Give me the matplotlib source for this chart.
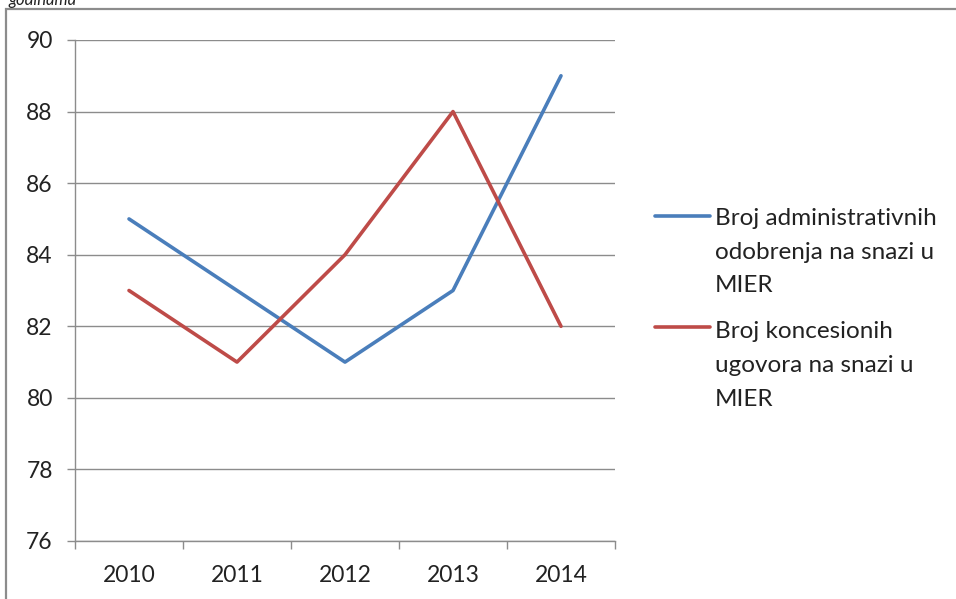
import matplotlib.pyplot as plt
from matplotlib.lines import Line2D
from matplotlib.patches import Rectangle
import numpy as np

plt.rcParams['font.family'] = ['Lato', 'DejaVu Sans']

# data
years = ['2010', '2011', '2012', '2013', '2014']
admin = [85, 83, 81, 83, 89]
konc = [83, 81, 84, 88, 82]
labels = ['Broj administrativnih\nodobrenja na snazi u\nMIER',
          'Broj koncesionih\nugovora na snazi u\nMIER']
colors = ['#4A7EBB', '#BE4B48']
yticks = np.arange(76, 91, 2)

fig = plt.figure(figsize=(9.56, 5.99), dpi=100)
ax = fig.add_axes([75 / 956, 58 / 599, 540 / 956, 501 / 599])

x = np.arange(len(years))
ax.plot(x, admin, color=colors[0], lw=2.6, solid_capstyle='round')
ax.plot(x, konc, color=colors[1], lw=2.6, solid_capstyle='round')

ax.set_xlim(-0.5, len(years) - 0.5)
ax.set_ylim(76, 90)
ax.set_yticks(yticks)
ax.set_xticks(x)
ax.set_xticklabels(years)
ax.set_xticks(np.arange(-0.5, len(years)), minor=True)
ax.tick_params(axis='x', which='major', length=0, pad=17, labelsize=16.5, labelcolor='#222222')
ax.tick_params(axis='x', which='minor', length=6, width=1, color='#8c8c8c', direction='out')
ax.tick_params(axis='y', length=6, width=1, color='#8c8c8c', pad=10, labelsize=16.5, labelcolor='#222222')
ax.grid(axis='y', color='#8c8c8c', lw=1)
ax.set_axisbelow(True)
for s in ['top', 'right']:
    ax.spines[s].set_visible(False)
for s in ['left', 'bottom']:
    ax.spines[s].set_color('#8c8c8c')
    ax.spines[s].set_linewidth(1)

# legend drawn by hand so the line sits at the first text line
for i, (lab, c) in enumerate(zip(labels, colors)):
    ytop = 1 - (208 + i * 113) / 599
    yl = 1 - (216 + i * 111) / 599
    fig.add_artist(Line2D([655 / 956, 710 / 956], [yl, yl], color=c, lw=2.6,
                          solid_capstyle='round'))
    fig.text(715 / 956, ytop, lab, fontsize=17.5, va='top', ha='left',
             color='#222222', linespacing=1.75)

# outer frame and cut off caption
fig.add_artist(Rectangle((6 / 956, -0.1), 1.2, 1 - 9 / 599 + 0.1, fill=False,
                         edgecolor='#8c8c8c', lw=1.6, transform=fig.transFigure))
fig.text(8 / 956, 1.0, 'godinama', fontsize=12, style='italic', va='center',
         ha='left', color='#222222')

fig.savefig('out.png', dpi=100)
